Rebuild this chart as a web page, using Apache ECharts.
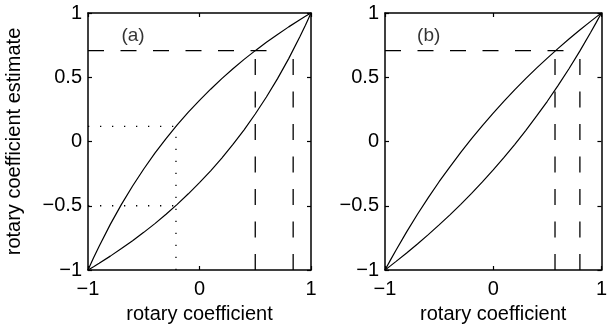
<!DOCTYPE html>
<html>
<head>
<meta charset="utf-8">
<script src="https://cdn.jsdelivr.net/npm/echarts@6/dist/echarts.min.js"></script>
<style>
html,body{margin:0;padding:0;background:#fff;}
#chart{width:610px;height:329px;}
</style>
</head>
<body>
<div id="chart"></div>
<script>
// ---- data ----
const xs     = [-1, -0.95, -0.9, -0.8, -0.7, -0.6, -0.5, -0.4, -0.3, -0.2, -0.1, 0, 0.1, 0.2, 0.3, 0.4, 0.5, 0.6, 0.7, 0.8, 0.9, 0.95, 1];
const upperA = [-1, -0.905, -0.815, -0.645, -0.489, -0.346, -0.214, -0.091, 0.023, 0.129, 0.228, 0.320, 0.407, 0.489, 0.566, 0.639, 0.707, 0.772, 0.833, 0.892, 0.947, 0.974, 1];
const lowerA = [-1, -0.974, -0.947, -0.892, -0.833, -0.772, -0.707, -0.639, -0.566, -0.489, -0.407, -0.320, -0.228, -0.129, -0.023, 0.091, 0.214, 0.346, 0.489, 0.645, 0.815, 0.905, 1];
const upperB = [-1, -0.923, -0.848, -0.703, -0.566, -0.437, -0.313, -0.197, -0.085, 0.022, 0.124, 0.221, 0.314, 0.404, 0.489, 0.571, 0.649, 0.725, 0.798, 0.868, 0.935, 0.968, 1];
const lowerB = [-1, -0.968, -0.935, -0.868, -0.798, -0.725, -0.649, -0.571, -0.489, -0.404, -0.314, -0.221, -0.124, -0.022, 0.085, 0.197, 0.313, 0.437, 0.566, 0.703, 0.848, 0.923, 1];

const levelA   = 0.707;          // dashed horizontal level (a)
const levelEndA = 0.707;         // x where dashed horizontal ends (a)
const crossA   = [0.5, 0.84];    // dashed verticals (a)
const dotX     = -0.211;         // dotted vertical (a)
const dotY     = [0.118, -0.5];  // dotted horizontals (a)
const levelB   = 0.707;
const levelEndB = 0.695;
const crossB   = [0.571, 0.801];

const xTicks = [-1, 0, 1];
const yTicks = [-1, -0.5, 0, 0.5, 1];
const panelLabels = ['(a)', '(b)'];
const panelLabelPos = [-0.596, 0.825];
const xTitle = 'rotary coefficient';
const yTitle = 'rotary coefficient estimate';

// ---- chart ----
const FONT = 'Liberation Sans';
const fmt = v => (v < 0 ? '\u2212' + Math.abs(v) : String(v));
const pairs = (a, b) => a.map((x, i) => [x, b[i]]);

function xAx(grid, pos) {
  const bottom = pos === 'bottom';
  return {
    type: 'value', gridIndex: grid, position: pos, min: -1, max: 1, interval: 1,
    axisLine: { show: true, onZero: false, lineStyle: { color: '#000', width: 1.5 } },
    axisTick: { show: true, inside: true, length: 4, lineStyle: { color: '#000', width: 1.2 } },
    axisLabel: { show: bottom, margin: 9, color: '#000', fontSize: 20, fontFamily: FONT, formatter: fmt },
    splitLine: { show: false },
    name: bottom ? xTitle : '', nameLocation: 'middle', nameGap: 34,
    nameTextStyle: { color: '#000', fontSize: 20, fontFamily: FONT }
  };
}
function yAx(grid, pos, title) {
  const left = pos === 'left';
  return {
    type: 'value', gridIndex: grid, position: pos, min: -1, max: 1, interval: 0.5,
    axisLine: { show: true, onZero: false, lineStyle: { color: '#000', width: 1.5 } },
    axisTick: { show: true, inside: true, length: 4, lineStyle: { color: '#000', width: 1.2 } },
    axisLabel: { show: left, margin: 6, color: '#000', fontSize: 20, fontFamily: FONT, formatter: fmt },
    splitLine: { show: false },
    name: title || '', nameLocation: 'middle', nameGap: 64, nameRotate: 90,
    nameTextStyle: { color: '#000', fontSize: 20, fontFamily: FONT }
  };
}

const curve = (xi, yi, d) => ({
  type: 'line', xAxisIndex: xi, yAxisIndex: yi, data: d, showSymbol: false, symbol: 'none',
  smooth: false, silent: true,
  lineStyle: { color: '#000', width: 1.2 }
});
const seg = (xi, yi, d, dash, w) => ({
  type: 'line', xAxisIndex: xi, yAxisIndex: yi, data: d, showSymbol: false, symbol: 'none', silent: true,
  lineStyle: { color: '#000', width: w, type: dash, cap: 'butt' }
});
const DASH = [16, 16.5];
const DOT = [1.3, 10.7];
const label = (xi, yi, t) => ({
  type: 'scatter', xAxisIndex: xi, yAxisIndex: yi, data: [panelLabelPos], symbolSize: 1,
  itemStyle: { color: 'rgba(0,0,0,0)' }, silent: true,
  label: { show: true, position: 'inside', formatter: t, color: '#000', fontSize: 19, fontFamily: FONT }
});

const series = [
  curve(0, 0, pairs(xs, upperA)),
  curve(0, 0, pairs(xs, lowerA)),
  seg(0, 0, [[-1, levelA], [levelEndA, levelA]], DASH, 1.3),
  ...crossA.map(c => seg(0, 0, [[c, -1], [c, levelA]], DASH, 1.3)),
  seg(0, 0, [[dotX, -1], [dotX, dotY[0]]], DOT, 1.3),
  ...dotY.map(v => seg(0, 0, [[-1, v], [dotX, v]], DOT, 1.3)),
  label(0, 0, panelLabels[0]),

  curve(2, 2, pairs(xs, upperB)),
  curve(2, 2, pairs(xs, lowerB)),
  seg(2, 2, [[-1, levelB], [levelEndB, levelB]], DASH, 1.3),
  ...crossB.map(c => seg(2, 2, [[c, -1], [c, levelB]], DASH, 1.3)),
  label(2, 2, panelLabels[1])
];

const chart = echarts.init(document.getElementById('chart'), null, { renderer: 'canvas' });
chart.setOption({
  animation: false,
  backgroundColor: '#fff',
  grid: [
    { left: 88, top: 13, width: 223, height: 260 },
    { left: 385, top: 13, width: 223, height: 260 }
  ],
  xAxis: [xAx(0, 'bottom'), xAx(0, 'top'), xAx(1, 'bottom'), xAx(1, 'top')],
  yAxis: [yAx(0, 'left', yTitle), yAx(0, 'right'), yAx(1, 'left'), yAx(1, 'right')],
  series: series
});
</script>
</body>
</html>
